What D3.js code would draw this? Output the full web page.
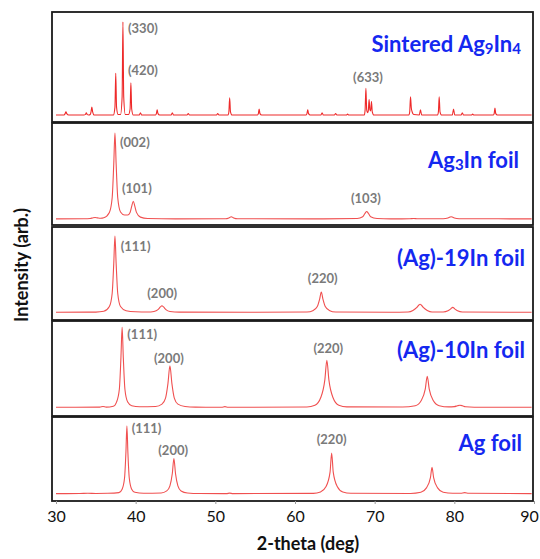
<!DOCTYPE html>
<html><head><meta charset="utf-8">
<script src="https://cdn.jsdelivr.net/npm/d3@7"></script>
<style>body{margin:0;background:#fff}</style>
</head><body>
<script>
// ---- DATA (2-theta in deg, intensity normalised to 100 = tallest peak per pattern) ----
const panelNames = ["Sintered Ag9In4", "Ag3In foil", "(Ag)-19In foil", "(Ag)-10In foil", "Ag foil"];
const xTicks = [30, 40, 50, 60, 70, 80, 90];

const sintered = [
[30,0.5],[31.0,0.5],[31.15,2],[31.25,4],[31.35,2],[31.6,0.5],
[33.5,0.5],[33.7,1.2],[33.8,3],[33.9,1.2],[34.1,0.5],
[34.3,1],[34.4,4],[34.5,9],[34.6,4],[34.8,0.5],
[37.2,0.5],[37.4,9],[37.5,45],[37.6,9],[37.8,1],
[38.1,1],[38.3,20],[38.4,100],[38.5,20],[38.7,1],
[39.1,1],[39.3,7],[39.4,35],[39.5,7],[39.7,0.5],
[40.45,0.5],[40.6,3],[40.75,0.5],
[42.5,0.5],[42.6,2],[42.7,6],[42.8,2],[43.0,0.5],
[44.45,0.5],[44.6,3],[44.75,0.5],
[46.45,0.5],[46.6,2],[46.75,0.5],
[50.15,0.5],[50.3,2],[50.45,0.5],
[51.6,0.5],[51.7,4],[51.8,19],[51.9,4],[52.1,0.5],
[55.3,0.5],[55.4,2],[55.5,7],[55.6,2],[55.8,0.5],
[61.4,0.5],[61.5,2],[61.6,6],[61.7,2],[61.9,0.5],
[63.25,0.5],[63.4,3],[63.55,0.5],
[64.95,0.5],[65.1,2],[65.25,0.5],
[66.45,0.5],[66.6,1.5],[66.75,0.5],
[68.7,0.5],[68.8,6],[68.9,29],[69.0,6],[69.1,3],[69.2,5],[69.3,17],[69.4,6],[69.5,5],[69.6,15],[69.7,4],[69.9,0.5],
[74.3,0.5],[74.4,4],[74.5,20],[74.6,8],[74.7,4],[74.9,1],
[75.6,0.5],[75.75,6],[75.9,0.5],
[77.9,0.5],[78.0,4],[78.1,20],[78.2,4],[78.4,0.5],
[79.75,0.5],[79.9,7],[80.05,0.5],
[80.85,0.5],[81.0,3],[81.15,0.5],
[82.15,0.5],[82.3,1.5],[82.45,0.5],
[84.9,0.5],[85.0,2],[85.1,8],[85.2,2],[85.4,0.5],
[89.7,0.5]
];

const ag3in = [
[30,0.5],[33.5,0.7],[34.3,1],[34.6,1.6],[34.9,2],[35.2,1.6],[35.6,1.2],
[36.0,1.8],[36.7,8],[37.05,25],[37.25,64],[37.4,100],[37.55,64],[37.75,25],[38.1,8.5],
[38.6,5],[39.0,5],[39.3,8],[39.5,15],[39.7,21],[39.9,15],[40.1,8],[40.6,2.5],[41.5,1],
[45,0.5],[51.3,0.6],[51.7,1.6],[52.0,3],[52.3,1.6],[52.8,0.6],
[62,0.5],[67.8,1],[68.5,3],[68.8,7],[69.0,9],[69.2,7],[69.5,3],[70.3,1],
[72,0.5],[74.4,0.6],[74.9,1],[75.4,0.6],
[78.6,0.7],[79.2,1.5],[79.45,2.6],[79.6,3],[79.75,2.6],[80.0,1.5],[80.6,0.7],
[89.7,0.5]
];

const ag19in = [
[30,0.5],[35,0.8],[36.0,1.8],[36.7,8],[37.05,25],[37.25,64],[37.4,100],[37.55,64],[37.75,25],[38.1,8],[38.8,2.5],[40,1.2],[41.5,0.9],
[42.3,1.6],[42.8,4],[43.1,7.5],[43.3,9],[43.5,7.5],[43.8,4],[44.3,1.6],[45.5,0.7],
[55,0.5],[61.5,0.9],[62.3,3],[62.8,8],[63.1,18],[63.3,27],[63.5,18],[63.8,8],[64.3,3],[65.1,0.9],
[72,0.5],[74.2,1],[74.8,3],[75.3,7],[75.55,10],[75.7,11],[75.85,10],[76.1,7],[76.6,3],[77.2,1],
[78.6,1],[79.2,2.5],[79.55,5],[79.8,7],[80.05,5],[80.4,2.5],[81,1],
[89.7,0.5]
];

const ag10in = [
[30,0.5],[35.5,0.7],[35.9,1.5],[36.3,0.7],[37.2,1.8],[37.6,7],[37.95,23],[38.15,62],[38.3,100],[38.45,62],[38.65,23],[39.0,7],[39.5,2.5],[40.5,1.2],
[42.5,1.5],[43.3,4.5],[43.75,12],[44.05,30],[44.3,52],[44.55,30],[44.85,12],[45.3,4.5],[46.2,1.5],[47.5,0.7],
[50.8,0.5],[51.2,1.3],[51.6,0.5],
[61.5,0.9],[62.5,3],[63.25,13],[63.75,35],[64.0,59],[64.25,35],[64.75,13],[65.5,3],[66.5,1],
[73.5,0.8],[75.1,2.5],[75.85,9],[76.35,23],[76.6,39],[76.85,23],[77.35,9],[78.1,2.5],[79.3,1],
[80.0,1.3],[80.4,2.5],[80.7,3],[81.0,2.5],[81.4,1.2],[82.5,0.6],
[89.7,0.5]
];

const agFoil = [
[30,0.5],[33,0.7],[34,1],[35,0.8],[36.5,1],[37.9,2],[38.3,7],[38.6,23],[38.78,62],[38.9,100],[39.02,62],[39.2,23],[39.5,7],[39.9,2.5],[41,1.2],
[43.2,1.5],[43.9,4.5],[44.3,12],[44.6,30],[44.8,52],[45.0,30],[45.3,12],[45.7,4.5],[46.5,1.5],[48,0.7],
[51.4,0.6],[51.8,1.3],[52.2,0.6],
[62.3,0.9],[63.2,3],[63.9,11],[64.4,32],[64.6,60],[64.8,32],[65.3,11],[66.0,3],[67,1],
[74.5,0.8],[75.8,2.5],[76.5,9],[77.0,24],[77.2,39],[77.4,24],[77.9,9],[78.6,2.5],[79.8,1],
[80.8,1],[81.3,2],[81.8,1],
[89.7,0.5]
];

// peak annotations: [label, 2-theta, intensity, anchor]
const sinteredLabels = [["(330)",39.04,93.6,"start"],["(420)",39.04,48.7,"start"],["(633)",69.16,41.2,"middle"]];
const ag3inLabels    = [["(002)",38.03,89.6,"start"],["(101)",38.28,36.3,"start"],["(103)",68.9,24.7,"middle"]];
const ag19inLabels   = [["(111)",38.12,87.4,"start"],["(200)",41.46,25.7,"start"],["(220)",63.48,45.6,"middle"]];
const ag10inLabels   = [["(111)",38.95,91.7,"start"],["(200)",42.3,61.4,"start"],["(220)",64.18,74.6,"middle"]];
const agFoilLabels   = [["(111)",39.5,97,"start"],["(200)",42.84,64.4,"start"],["(220)",64.6,80.5,"middle"]];

const series = [sintered, ag3in, ag19in, ag10in, agFoil];
const labelSets = [sinteredLabels, ag3inLabels, ag19inLabels, ag10inLabels, agFoilLabels];

// ---- LAYOUT ----
// [top, bottom, baselineY, peakTopY, titleY, titleRight]
const boxes = [
  [12, 122, 115.5, 22, 43, 521],
  [123, 225, 219.3, 133, 159, 519],
  [227, 320, 312.7, 236, 257, 525],
  [321, 416, 407.7, 327.3, 349, 525],
  [417, 501, 494, 425.7, 442, 522]
];
const left = 52, right = 533;
const W = 540, H = 559;
const font = "Lato, 'Open Sans', sans-serif";

const svg = d3.select("body").append("svg").attr("width", W).attr("height", H)
  .style("font-family", font);
svg.append("rect").attr("width", W).attr("height", H).attr("fill", "#fff");

const x = d3.scaleLinear().domain([30, 90]).range([56, 534]);

series.forEach((data, i) => {
  const [top, bottom, base, peakTop, titleY, titleRight] = boxes[i];
  const y = d3.scaleLinear().domain([0, 100]).range([base, peakTop]);
  const g = svg.append("g");
  g.append("rect").attr("x", left).attr("y", top).attr("width", right - left).attr("height", bottom - top)
    .attr("fill", "#fff").attr("stroke", "#1a1a1a").attr("stroke-width", 1.8);
  const line = d3.line().x(d => x(d[0])).y(d => y(d[1])).curve(d3.curveMonotoneX);
  g.append("path").datum(data).attr("d", line).attr("fill", "none")
    .attr("stroke", i === 0 ? "#ee2a2a" : "#f05050").attr("stroke-width", 1.1);
  labelSets[i].forEach(l => {
    g.append("text").attr("x", x(l[1])).attr("y", y(l[2])).attr("text-anchor", l[3])
      .attr("dominant-baseline", "central").attr("font-size", 13).attr("font-weight", 700)
      .attr("fill", "#7a7a7a").text(l[0]);
  });
  const t = g.append("text").attr("x", titleRight).attr("y", titleY).attr("text-anchor", "end")
    .attr("dominant-baseline", "central").attr("font-size", 22).attr("font-weight", 700).attr("fill", "#1428f0");
  const name = panelNames[i];
  const m = name.match(/^(.*Ag)(\d)(In)(\d)?(.*)$/);
  if (i <= 1 && m) {
    t.append("tspan").text(m[1]);
    t.append("tspan").attr("font-size", 15).attr("dy", 5).text(m[2]);
    t.append("tspan").attr("dy", -5).text(m[3]);
    if (m[4]) t.append("tspan").attr("font-size", 15).attr("dy", 5).text(m[4]);
    if (m[5]) t.append("tspan").attr("dy", m[4] ? -5 : 0).text(m[5]);
  } else {
    t.text(name);
  }
});

const ax = svg.append("g").attr("transform", `translate(0,${boxes[4][1]})`)
  .call(d3.axisBottom(x).tickValues(xTicks).tickSize(3).tickPadding(7));
ax.select(".domain").remove();
ax.selectAll(".tick line").attr("stroke", "#999");
ax.selectAll(".tick text").attr("font-size", 16).attr("font-family", font).attr("fill", "#111")
  .attr("dx", d => d === 90 ? -5 : 0);

svg.append("text").attr("x", 308).attr("y", 543).attr("text-anchor", "middle")
  .attr("dominant-baseline", "central").attr("font-size", 18).attr("font-weight", 700)
  .attr("fill", "#111").text("2-theta (deg)");
svg.append("text").attr("transform", "translate(21,265) rotate(-90)").attr("text-anchor", "middle")
  .attr("dominant-baseline", "central").attr("font-size", 18).attr("font-weight", 700)
  .attr("fill", "#111").text("Intensity (arb.)");
</script>
</body></html>
